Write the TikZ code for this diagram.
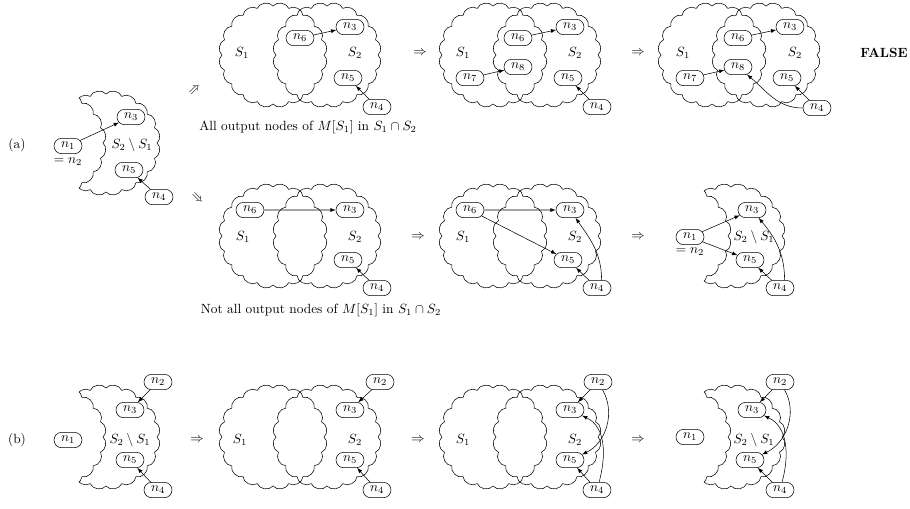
\documentclass[tikz,border=0pt]{standalone}
\usetikzlibrary{shapes.misc}

% one scalloped set, centre (#1,#2), path options #3
\newcommand{\setcloud}[3]{%
  \path[#3] ({#1+51},{#2}) foreach \k in {1,...,20} {to[bend right=60] ({#1+51*cos(18*\k)},{#2+49*sin(18*\k)})} -- cycle;}
% S2 without S1, S1 centre #1 and S2 centre #1+54
\newcommand{\setdiff}[2]{%
  \setcloud{#1+54}{#2}{draw}
  \setcloud{#1}{#2}{fill=white}
  \begin{scope}
    \setcloud{#1+54}{#2}{clip}
    \setcloud{#1}{#2}{draw}
  \end{scope}}

\begin{document}
\begin{tikzpicture}[x=0.75pt,y=0.75pt,>=latex,
	nd/.style={draw, rounded rectangle, minimum width=24pt, minimum height=11.5pt, inner sep=1.5pt},
	every edge/.style={draw,thin,->}]
	\useasboundingbox (0,0) rectangle (910,-508);
	% sets
	\setdiff{52}{-143}
	\setcloud{273}{-55}{draw} \setcloud{327}{-55}{draw}
	\setcloud{493}{-55}{draw} \setcloud{547}{-55}{draw}
	\setcloud{712}{-55}{draw} \setcloud{766}{-55}{draw}
	\setcloud{273}{-236}{draw} \setcloud{327}{-236}{draw}
	\setcloud{493}{-236}{draw} \setcloud{547}{-236}{draw}
	\setdiff{677}{-236}
	\setdiff{52}{-437}
	\setcloud{273}{-437}{draw} \setcloud{327}{-437}{draw}
	\setcloud{493}{-437}{draw} \setcloud{547}{-437}{draw}
	\setdiff{677}{-437}

	% (a)
	\node (lbla) at (17,-145) {(a)};
	\node[nd] (a1n1) at (68,-146) {$n_1$};
	\node (a1eq) at (68,-162) {$=n_2$};
	\node (a1d) at (132,-145) {$S_2\setminus S_1$};
	\node[nd] (a1n3) at (131,-117) {$n_3$};
	\node[nd] (a1n5) at (129,-170) {$n_5$};
	\node[nd] (a1n4) at (159,-197) {$n_4$};
	\path (a1n1) edge (a1n3) (a1n4) edge (a1n5);
	\node[rotate=45] (up) at (195,-90) {$\Rightarrow$};
	\node[rotate=-45] (down) at (197,-198) {$\Rightarrow$};

	\node (a2s1) at (242,-53) {$S_1$};
	\node (a2s2) at (355,-53) {$S_2$};
	\node[nd] (a2n6) at (300,-38) {$n_6$};
	\node[nd] (a2n3) at (350,-27) {$n_3$};
	\node[nd] (a2n5) at (348,-78) {$n_5$};
	\node[nd] (a2n4) at (377,-107) {$n_4$};
	\path (a2n6) edge (a2n3) (a2n4) edge (a2n5);
	\node (a2txt) at (308,-127) {All output nodes of $M[S_1]$ in $S_1\cap S_2$};
	\node (a2to) at (420,-53) {$\Rightarrow$};

	\node (a3s1) at (463,-53) {$S_1$};
	\node (a3s2) at (575,-53) {$S_2$};
	\node[nd] (a3n6) at (518,-38) {$n_6$};
	\node[nd] (a3n3) at (570,-27) {$n_3$};
	\node[nd] (a3n8) at (518,-67) {$n_8$};
	\node[nd] (a3n7) at (470,-78) {$n_7$};
	\node[nd] (a3n5) at (568,-78) {$n_5$};
	\node[nd] (a3n4) at (597,-107) {$n_4$};
	\path (a3n6) edge (a3n3) (a3n7) edge (a3n8) (a3n4) edge (a3n5);
	\node (a3to) at (638,-53) {$\Rightarrow$};

	\node (a4s1) at (683,-53) {$S_1$};
	\node (a4s2) at (795,-53) {$S_2$};
	\node[nd] (a4n6) at (738,-38) {$n_6$};
	\node[nd] (a4n3) at (790,-27) {$n_3$};
	\node[nd] (a4n8) at (738,-67) {$n_8$};
	\node[nd] (a4n7) at (690,-78) {$n_7$};
	\node[nd] (a4n5) at (787,-78) {$n_5$};
	\node[nd] (a4n4) at (817,-108) {$n_4$};
	\path (a4n6) edge (a4n3) (a4n7) edge (a4n8) (a4n4) edge (a4n5)
		(a4n4) edge[out=180,in=-40] (a4n8);
	\node (false) at (884,-53) {\textbf{FALSE}};

	\node (b2s1) at (243,-237) {$S_1$};
	\node (b2s2) at (355,-237) {$S_2$};
	\node[nd] (b2n6) at (250,-210) {$n_6$};
	\node[nd] (b2n3) at (350,-210) {$n_3$};
	\node[nd] (b2n5) at (348,-260) {$n_5$};
	\node[nd] (b2n4) at (377,-288) {$n_4$};
	\path (b2n6) edge (b2n3) (b2n4) edge (b2n5);
	\node (b2txt) at (321,-310) {Not all output nodes of $M[S_1]$ in $S_1\cap S_2$};
	\node (b2to) at (418,-237) {$\Rightarrow$};

	\node (b3s1) at (463,-237) {$S_1$};
	\node (b3s2) at (575,-237) {$S_2$};
	\node[nd] (b3n6) at (470,-210) {$n_6$};
	\node[nd] (b3n3) at (570,-210) {$n_3$};
	\node[nd] (b3n5) at (568,-260) {$n_5$};
	\node[nd] (b3n4) at (597,-288) {$n_4$};
	\path (b3n6) edge (b3n3) (b3n6) edge (b3n5) (b3n4) edge (b3n5)
		(b3n4.60) edge[out=90,in=-55] (b3n3);
	\node (b3to) at (638,-237) {$\Rightarrow$};

	\node[nd] (b4n1) at (690,-237) {$n_1$};
	\node (b4eq) at (690,-252) {$=n_2$};
	\node (b4d) at (754,-237) {$S_2\setminus S_1$};
	\node[nd] (b4n3) at (752,-210) {$n_3$};
	\node[nd] (b4n5) at (750,-260) {$n_5$};
	\node[nd] (b4n4) at (780,-288) {$n_4$};
	\path (b4n1) edge (b4n3) (b4n1) edge (b4n5) (b4n4) edge (b4n5)
		(b4n4.60) edge[out=90,in=-50] (b4n3);

	% (b)
	\node (lblb) at (17,-440) {(b)};
	\node[nd] (c1n1) at (68,-440) {$n_1$};
	\node (c1d) at (130,-440) {$S_2\setminus S_1$};
	\node[nd] (c1n2) at (158,-382) {$n_2$};
	\node[nd] (c1n3) at (130,-410) {$n_3$};
	\node[nd] (c1n5) at (130,-460) {$n_5$};
	\node[nd] (c1n4) at (158,-490) {$n_4$};
	\path (c1n2) edge (c1n3) (c1n4) edge (c1n5);
	\node (c1to) at (197,-440) {$\Rightarrow$};

	\node (c2s1) at (240,-440) {$S_1$};
	\node (c2s2) at (355,-440) {$S_2$};
	\node[nd] (c2n2) at (380,-382) {$n_2$};
	\node[nd] (c2n3) at (350,-410) {$n_3$};
	\node[nd] (c2n5) at (350,-460) {$n_5$};
	\node[nd] (c2n4) at (377,-490) {$n_4$};
	\path (c2n2) edge (c2n3) (c2n4) edge (c2n5);
	\node (c2to) at (418,-440) {$\Rightarrow$};

	\node (c3s1) at (463,-440) {$S_1$};
	\node (c3s2) at (575,-440) {$S_2$};
	\node[nd] (c3n2) at (598,-382) {$n_2$};
	\node[nd] (c3n3) at (570,-410) {$n_3$};
	\node[nd] (c3n5) at (570,-460) {$n_5$};
	\node[nd] (c3n4) at (597,-490) {$n_4$};
	\path (c3n2) edge (c3n3) (c3n4) edge (c3n5)
		(c3n2) edge[out=-60,in=25] (c3n5)
		(c3n4) edge[out=75,in=-25] (c3n3);
	\node (c3to) at (638,-440) {$\Rightarrow$};

	\node[nd] (c4n1) at (690,-437) {$n_1$};
	\node (c4d) at (754,-440) {$S_2\setminus S_1$};
	\node[nd] (c4n2) at (780,-382) {$n_2$};
	\node[nd] (c4n3) at (752,-410) {$n_3$};
	\node[nd] (c4n5) at (750,-460) {$n_5$};
	\node[nd] (c4n4) at (780,-490) {$n_4$};
	\path (c4n2) edge (c4n3) (c4n4) edge (c4n5)
		(c4n2) edge[out=-60,in=25] (c4n5)
		(c4n4) edge[out=75,in=-25] (c4n3);
\end{tikzpicture}
\end{document}
